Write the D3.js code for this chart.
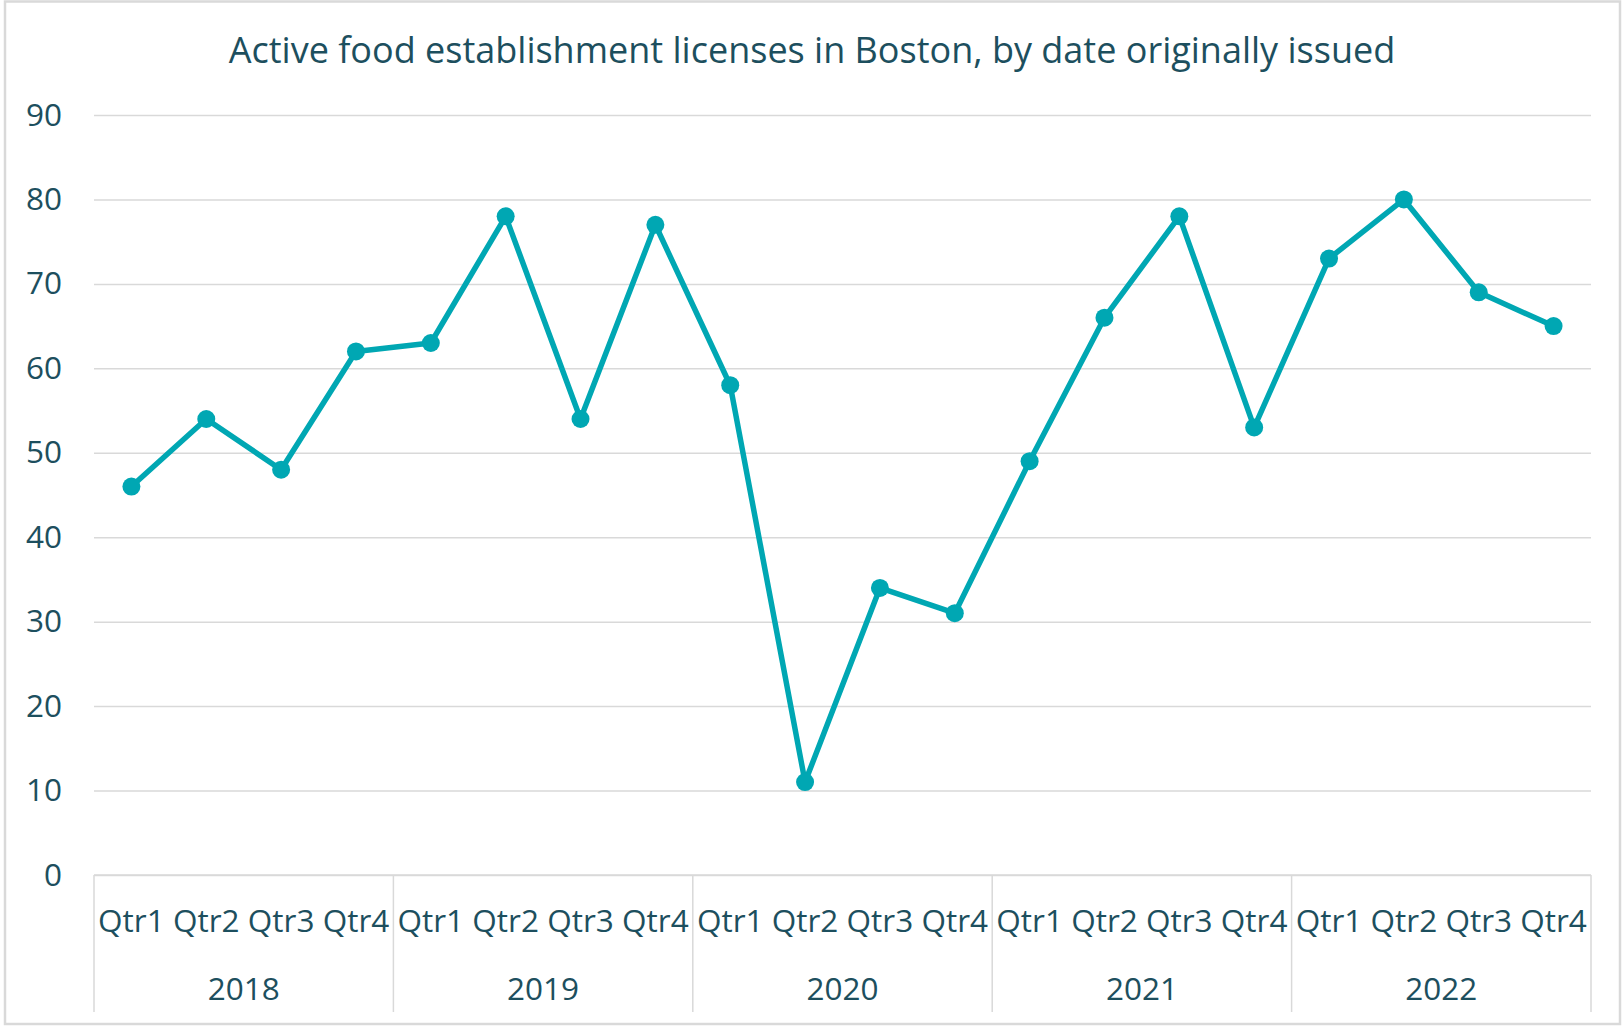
<!DOCTYPE html>
<html>
<head>
<meta charset="utf-8">
<script src="https://cdn.jsdelivr.net/npm/d3@7"></script>
<style>
  body { margin: 0; background: #fff; }
  text { font-family: "Open Sans", sans-serif; fill: #1d4f5e; }
</style>
</head>
<body>
<div id="chart"></div>
<script>
// data
var years    = ['2018', '2019', '2020', '2021', '2022'];
var quarters = ['Qtr1', 'Qtr2', 'Qtr3', 'Qtr4'];
var licenses = [46, 54, 48, 62,  63, 78, 54, 77,  58, 11, 34, 31,  49, 66, 78, 53,  73, 80, 69, 65];
var y_ticks  = [0, 10, 20, 30, 40, 50, 60, 70, 80, 90];

var chart_width  = 1622;
var chart_height = 1027;
var plot_left = 94, plot_right = 1591, plot_top = 115, plot_bottom = 875;
var line_color = '#00a7b3';
var grid_color = '#d9d9d9';
var label_size = '31.5px';

var svg = d3.select('#chart')
    .append('svg')
    .attr('width', chart_width)
    .attr('height', chart_height);

// outer frame
svg.append('rect')
    .attr('x', 5).attr('y', 1.5)
    .attr('width', 1615).attr('height', 1022.5)
    .attr('fill', 'none')
    .attr('stroke', grid_color)
    .attr('stroke-width', 2.5);

var keys = [];
years.forEach(function(yr){
    quarters.forEach(function(q){ keys.push(yr + '|' + q); });
});
var points = licenses.map(function(v, i){ return { key: keys[i], value: v }; });

var x = d3.scaleBand()
    .domain(keys)
    .range([plot_left, plot_right]);

var y = d3.scaleLinear()
    .domain([0, 90])
    .range([plot_bottom, plot_top]);

// title
svg.append('text')
    .attr('x', chart_width / 2 + 1)
    .attr('y', 63)
    .attr('text-anchor', 'middle')
    .style('font-size', '36px')
    .text('Active food establishment licenses in Boston, by date originally issued');

// gridlines + y labels
var y_axis = svg.append('g')
    .attr('transform', 'translate(' + plot_left + ',0)')
    .call(d3.axisLeft(y).tickValues(y_ticks).tickSize(-(plot_right - plot_left)).tickPadding(32));
y_axis.select('.domain').remove();
y_axis.selectAll('.tick line')
    .attr('stroke', grid_color)
    .attr('stroke-width', 1.5);
y_axis.selectAll('.tick text')
    .style('font-size', label_size)
    .attr('fill', '#1d4f5e');

// category axis: quarters
var x_axis = svg.append('g')
    .attr('transform', 'translate(0,' + plot_bottom + ')')
    .call(d3.axisBottom(x).tickSize(0).tickPadding(0)
        .tickFormat(function(d){ return d.split('|')[1]; }));
x_axis.select('.domain').remove();
x_axis.selectAll('.tick text')
    .attr('dy', null)
    .attr('y', 57)
    .style('font-size', label_size)
    .attr('fill', '#1d4f5e');

// year groups
var year_x = d3.scaleBand().domain(years).range([plot_left, plot_right]);

svg.append('line')
    .attr('x1', plot_left).attr('x2', plot_right)
    .attr('y1', plot_bottom).attr('y2', plot_bottom)
    .attr('stroke', grid_color).attr('stroke-width', 1.5);

svg.selectAll('.year-sep')
    .data(years.concat(['end']))
    .enter()
    .append('line')
    .attr('class', 'year-sep')
    .attr('x1', function(d, i){ return plot_left + i * year_x.bandwidth(); })
    .attr('x2', function(d, i){ return plot_left + i * year_x.bandwidth(); })
    .attr('y1', plot_bottom)
    .attr('y2', 1012)
    .attr('stroke', grid_color)
    .attr('stroke-width', 1.5);

svg.selectAll('.year-label')
    .data(years)
    .enter()
    .append('text')
    .attr('class', 'year-label')
    .attr('x', function(d){ return year_x(d) + year_x.bandwidth() / 2; })
    .attr('y', 1000)
    .attr('text-anchor', 'middle')
    .style('font-size', label_size)
    .text(function(d){ return d; });

// line + markers
var line = d3.line()
    .x(function(d){ return x(d.key) + x.bandwidth() / 2; })
    .y(function(d){ return y(d.value); });

svg.append('path')
    .datum(points)
    .attr('d', line)
    .attr('fill', 'none')
    .attr('stroke', line_color)
    .attr('stroke-width', 5.5)
    .attr('stroke-linejoin', 'round');

svg.selectAll('circle')
    .data(points)
    .enter()
    .append('circle')
    .attr('cx', function(d){ return x(d.key) + x.bandwidth() / 2; })
    .attr('cy', function(d){ return y(d.value); })
    .attr('r', 9)
    .attr('fill', line_color);
</script>
</body>
</html>
